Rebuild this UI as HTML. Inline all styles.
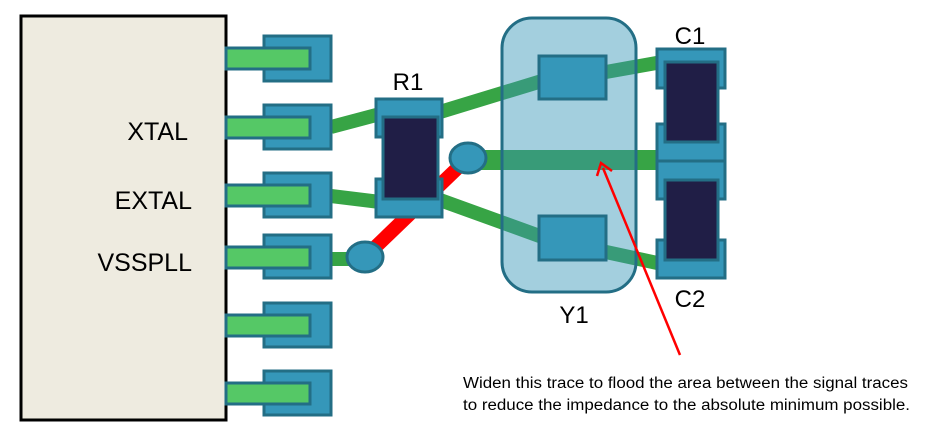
<!DOCTYPE html>
<html><head><meta charset="utf-8"><style>body{margin:0;background:#fff}svg{display:block}text{font-family:"Liberation Sans",Arial,sans-serif}</style></head><body>
<svg width="925" height="445" viewBox="0 0 925 445" xmlns="http://www.w3.org/2000/svg">
<defs><clipPath id="yc"><rect x="502" y="18" width="134" height="274" rx="30"/></clipPath>
<g id="tr">
<polyline points="440,112 545,80 606,72 662,62" fill="none" stroke-width="14"/>
<polyline points="440,200 545,238 606,252 662,264" fill="none" stroke-width="14"/>
<line x1="468" y1="160" x2="662" y2="160" stroke-width="20"/>
</g></defs>
<rect x="21" y="16" width="205" height="404" fill="#EEEBE0" stroke="#000" stroke-width="3"/>
<g font-size="25" text-anchor="end" fill="#000">
<text x="188" y="140">XTAL</text><text x="192" y="209">EXTAL</text><text x="192" y="271">VSSPLL</text></g>
<g stroke="#37A445" stroke-width="14" fill="none">
<polyline points="331,127 380,114"/>
<polyline points="331,196 380,202"/>
<line x1="331" y1="259" x2="360" y2="259"/>
</g>
<use href="#tr" stroke="#37A445"/>
<line x1="365" y1="257" x2="468" y2="158" stroke="#f00" stroke-width="14"/>
<g fill="#3597B9" stroke="#236E85" stroke-width="3">
<rect x="264" y="36" width="67" height="45"/><rect x="264" y="105" width="67" height="44"/>
<rect x="264" y="173" width="67" height="44"/><rect x="264" y="235" width="67" height="43"/>
<rect x="264" y="303" width="67" height="44"/><rect x="264" y="371" width="67" height="44"/>
</g>
<g fill="#55C866" stroke="#236E85" stroke-width="3">
<rect x="226" y="48" width="84" height="21"/><rect x="226" y="117" width="84" height="21"/>
<rect x="226" y="185" width="84" height="21"/><rect x="226" y="247" width="84" height="21"/>
<rect x="226" y="315" width="84" height="21"/><rect x="226" y="383" width="84" height="21"/>
</g>
<g fill="#3597B9" stroke="#236E85" stroke-width="3">
<rect x="376" y="99" width="66" height="38"/><rect x="376" y="179" width="66" height="38"/>
</g>
<rect x="383" y="117" width="55" height="82" fill="#201E46" stroke="#236E85" stroke-width="3"/>
<g fill="#3597B9" stroke="#236E85" stroke-width="3">
<ellipse cx="468" cy="158" rx="18" ry="15"/><ellipse cx="365" cy="257" rx="18" ry="15"/>
</g>
<rect x="502" y="18" width="134" height="274" rx="30" fill="#A3CFDE"/>
<g clip-path="url(#yc)"><use href="#tr" stroke="#389B78"/></g>
<rect x="502" y="18" width="134" height="274" rx="30" fill="none" stroke="#236E85" stroke-width="3"/>
<g fill="#3597B9" stroke="#236E85" stroke-width="3">
<rect x="539" y="56" width="67" height="43"/><rect x="539" y="216" width="67" height="44"/>
<rect x="657" y="49" width="68" height="39"/><rect x="657" y="124" width="68" height="37"/>
<rect x="657" y="161" width="68" height="38"/><rect x="657" y="240" width="68" height="38"/>
</g>
<rect x="665" y="62" width="53" height="80" fill="#201E46" stroke="#236E85" stroke-width="3"/>
<rect x="665" y="180" width="53" height="80" fill="#201E46" stroke="#236E85" stroke-width="3"/>
<g font-size="24" text-anchor="middle" fill="#000">
<text x="408" y="90">R1</text><text x="574" y="323">Y1</text><text x="690" y="44">C1</text><text x="690" y="307">C2</text></g>
<line x1="680" y1="355" x2="603" y2="168" stroke="#f00" stroke-width="2.5"/>
<polyline points="597,176 601,163 612,171" fill="none" stroke="#f00" stroke-width="2.5"/>
<g font-size="15.5" fill="#000"><text x="463" y="388" textLength="445" lengthAdjust="spacingAndGlyphs">Widen this trace to flood the area between the signal traces</text>
<text x="463" y="410" textLength="447" lengthAdjust="spacingAndGlyphs">to reduce the impedance to the absolute minimum possible.</text></g>
</svg>
</body></html>
